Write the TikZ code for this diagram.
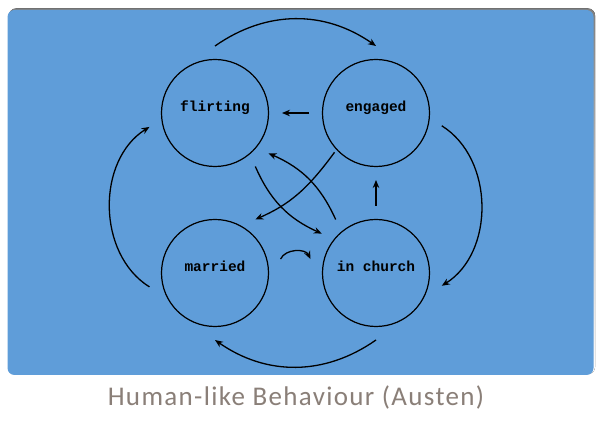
\documentclass[tikz,border=0pt]{standalone}
\usepackage{fontspec}
\setmonofont{Liberation Mono}
\newfontfamily\titlefont[LetterSpace=5]{Carlito}
\usetikzlibrary{arrows.meta, positioning}
\definecolor{slide}{RGB}{95,157,217}
\definecolor{shade}{RGB}{105,105,105}
\definecolor{caption}{RGB}{138,127,120}

\begin{document}
\begin{tikzpicture}[node distance=161pt, on grid, >={Stealth[length=8pt,width=6.5pt]}]
\tikzstyle{stage}=[circle, draw=black, line width=1.2pt, minimum size=107pt, outer sep=13.5pt, text height=6pt, text depth=8pt, font=\ttfamily\bfseries\fontsize{14.5pt}{16pt}\selectfont]
\tikzstyle{move}=[->, line width=1.3pt]
% slide background
\useasboundingbox (0,0) rectangle (606pt,431pt);
\fill[white] (0,0) rectangle (606pt,431pt);
\fill[shade, rounded corners=7pt] (9pt,57pt) rectangle (595pt,422.5pt);
\fill[slide, rounded corners=7pt] (7.5pt,56pt) rectangle (593.5pt,421pt);
% states
\node [stage] (flirting) at (215pt,318pt) {flirting};
\node [stage] (engaged) [right=of flirting] {engaged};
\node [stage] (married) [below=160pt of flirting] {married};
\node [stage] (incurch) [below=160pt of engaged] {in church};
% outer ring
\draw [move] (flirting.north) to[bend left=35] (engaged.north);
\draw [move] (engaged.-11) to[bend left=58] (incurch.-11);
\draw [move] (incurch.south) to[bend left=35] (married.south);
\draw [move] (married.192) to[bend left=58] (flirting.192);
% inner moves
\draw [move] (engaged.west) -- (flirting.east);
\draw [move] (incurch.north) -- (engaged.south);
\draw [move] (flirting.-53) to[bend right=21] (incurch.144);
\draw [move] (incurch.127) to[bend right=21] (flirting.-37);
\draw [move, shorten <=-10pt] (engaged.225) to[bend left=15] (married.53);
\draw [move] (married.12) to[bend left=65] (incurch.168);
% caption
\node [font=\titlefont\fontsize{27pt}{32pt}\selectfont, text=caption, anchor=base] (title) at (296pt,25pt) {Human-like Behaviour (Austen)};
\end{tikzpicture}
\end{document}
